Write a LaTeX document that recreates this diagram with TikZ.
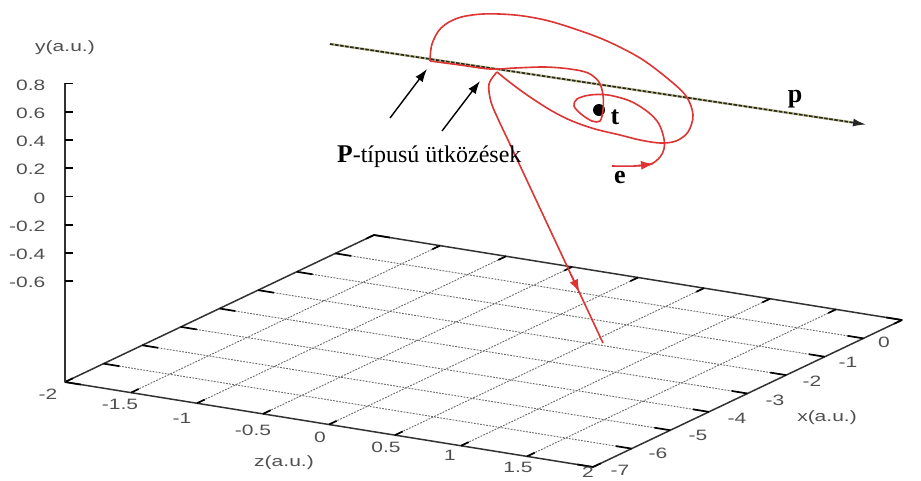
\documentclass[tikz,border=0pt]{standalone}
\usepackage{fontspec}
\setmainfont{Liberation Serif}
\newfontfamily\axfont[FakeStretch=1.4]{Liberation Sans}
\usetikzlibrary{arrows.meta}
\definecolor{trajred}{RGB}{222,52,52}
\definecolor{axgray}{RGB}{50,50,50}
\definecolor{labgray}{RGB}{80,80,80}
\definecolor{gridgray}{RGB}{105,105,105}
\definecolor{pyellow}{RGB}{185,185,130}
\begin{document}
\begin{tikzpicture}[x=1pt,y=-1pt,
  axisline/.style={axgray, line width=1.5pt, line join=round},
  tickline/.style={black, line width=1.7pt},
  gridline/.style={gridgray, line width=0.9pt, dash pattern=on 1.8pt off 1.3pt},
  ticklab/.style={font=\axfont\fontsize{15}{15}\selectfont, text=labgray, inner sep=0pt},
  traj/.style={trajred, line width=1.6pt, line join=round},
  redtip/.style={trajred, line width=1.6pt, -{Latex[length=13pt,width=9pt]}},
  pointer/.style={black, line width=1.4pt, -{Latex[length=13pt,width=9pt]}},
  biglab/.style={font=\bfseries\fontsize{26}{26}\selectfont, inner sep=0pt},
]
\useasboundingbox[fill=white] (0,0) rectangle (921,480);

% ---------- floor (z from -2 to 2, x from -7 to 1) ----------
\begin{scope}[shift={(65pt,-382pt)}, x={(132pt,-21.25pt)}, y={(38.625pt,18.375pt)}]
  \foreach \i in {1,...,7} \draw[gridline] (\i/2,0) -- (\i/2,8);
  \foreach \j in {1,...,7} \draw[gridline] (0,\j) -- (4,\j);
  \draw[axisline] (0,0) -- (4,0) -- (4,8) -- (0,8) -- cycle;
  \foreach \i in {0,...,8} {
    \draw[tickline] (\i/2,0) -- (\i/2,0.2);
    \draw[tickline] (\i/2,8) -- (\i/2,7.8);
    \draw[tickline] (4,\i) -- (3.88,\i);
    \draw[tickline] (0,\i) -- (0.12,\i);
  }
\end{scope}

% ---------- vertical axis ----------
\draw[axisline] (65,83) -- (65,382);
\foreach \v/\yy [count=\k] in {0.8/83.5,0.6/111.7,0.4/140,0.2/168.2,0/196.5,-0.2/224.7,-0.4/253,-0.6/281.2} {
  \draw[tickline] (65,\yy) -- (73,\yy);
  \node[ticklab, anchor=east] (ylab\k) at (45.5,\yy+1.5) {\v};
}
\node[ticklab] (ytitle) at (65,48) {y(a.u.)};

% z tick labels
\foreach \v/\cx/\cy [count=\k] in {-2/48/394,-1.5/120/404,-1/182/418,-0.5/253/430,0/320/437,0.5/386/447,1/450/455,1.5/518/467,2/588/472} {
  \node[ticklab] (zlab\k) at (\cx,\cy) {\v};
}
\node[ticklab] (ztitle) at (284,463) {z(a.u.)};

% x tick labels
\foreach \v/\cx/\cy [count=\k] in {-7/620/470,-6/658/453,-5/698/435,-4/737/418,-3/775/400,-2/812/381,-1/848/362,0/884/342} {
  \node[ticklab] (xlab\k) at (\cx,\cy) {\v};
}
\node[ticklab] (xtitle) at (827,418) {x(a.u.)};

% ---------- proton line p ----------
\coordinate (pstart) at (330,44);
\coordinate (pend) at (866,124.5);
\coordinate (pmid) at (852,122.4);
\draw[pyellow, line width=2.4pt] (pstart) -- (pmid);
\draw[black!85, line width=1.6pt, dash pattern=on 3.5pt off 1.6pt, -{Latex[length=13pt,width=8pt]}] (pstart) -- (pend);
\node[biglab] (plab) at (795,99) {p};

% ---------- target t ----------
\node[circle, fill=black, inner sep=0pt, minimum size=12pt] (t) at (599,110) {};
\node[biglab] (tlab) at (615,117) {t};

% ---------- electron trajectory ----------
\draw[traj] plot[smooth, tension=0.55] coordinates {
 (612,166) (635,166) (651,164) (660,157) (664,149) (664,139) (659,124) (648,112)
 (630,101) (608,95) (590,95) (577,99) (574,106) (581,114) (592,121) (600,121)
 (603,110) (603,95) (599,82) (588,73) (570,69) (545,67) (515,68) (490,69) (460,65) (430,61)};
\draw[traj] plot[smooth, tension=0.55] coordinates {
 (430,61) (432,44) (441,28) (458,18) (483,14) (515,15) (545,20) (575,29) (607,41)
 (640,58) (667,78) (686,96) (693,115) (688,132) (676,141) (660,143) (640,140)
 (620,135) (595,129) (572,121) (552,111) (530,97) (512,84) (497,72)};
\coordinate (exitend) at (603,343);
\draw[traj] plot[smooth, tension=0.55] coordinates {
 (497,72) (489,84) (491,102) (499,121) (508,140)} -- (exitend);
\coordinate (ea) at (638,165.6);
\coordinate (eb) at (654,164);
\draw[redtip] (ea) -- (eb);
\coordinate (xa) at (571,274.5);
\coordinate (xb) at (579.5,292.5);
\draw[redtip] (xa) -- (xb);
\node[biglab] (elab) at (620,178) {e};

% ---------- P-type collisions ----------
\node[anchor=base west, inner sep=0pt] (ptext) at (337,162)
  {{\bfseries\fontsize{25.5}{25}\selectfont P}{\fontsize{24}{24}\selectfont -típusú ütközések}};
\coordinate (c1tail) at (390,118);
\coordinate (c1tip) at (427,69);
\coordinate (c2tail) at (442,131);
\coordinate (c2tip) at (480,81);
\draw[pointer] (c1tail) -- (c1tip);
\draw[pointer] (c2tail) -- (c2tip);
\end{tikzpicture}
\end{document}
